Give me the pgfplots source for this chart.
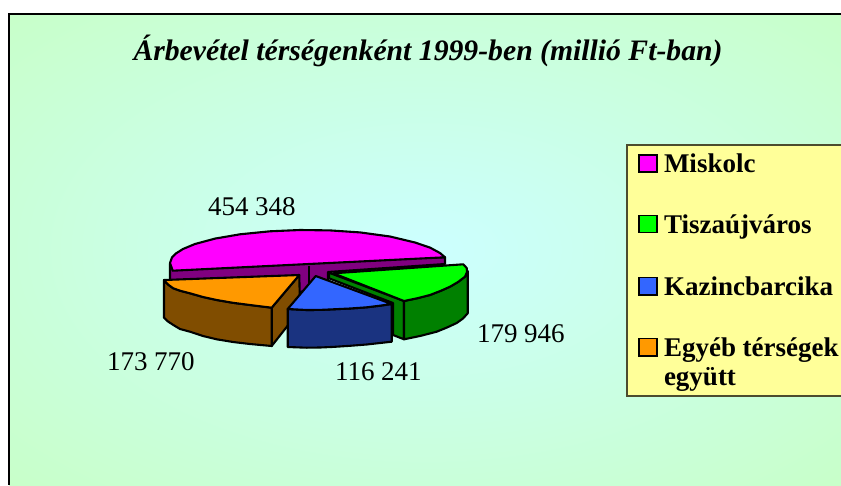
\documentclass[border=0pt]{standalone}
\usepackage{pgfplots}
\pgfplotsset{compat=1.18}
\usepackage{fontspec}
\setmainfont{Liberation Serif}
\definecolor{bgin}{HTML}{CCFFFF}
\definecolor{bgout}{HTML}{C8FFC8}
\definecolor{mag}{HTML}{FF00FF}
\definecolor{magd}{HTML}{800080}
\definecolor{gre}{HTML}{00FF00}
\definecolor{gred}{HTML}{008000}
\definecolor{blu}{HTML}{3366FF}
\definecolor{blud}{HTML}{1A3380}
\definecolor{ora}{HTML}{FF9900}
\definecolor{orad}{HTML}{804D00}
\definecolor{legbg}{HTML}{FFFF99}
\pgfdeclareradialshading{bgshade}{\pgfpoint{0bp}{0bp}}{color(0bp)=(bgin); color(36bp)=(bgout); color(50bp)=(bgout)}
\tikzset{
  pie/.style={draw=black, line width=2.1pt, line join=round},
  lab/.style={anchor=base west, inner sep=0pt, outer sep=0pt, font=\fontsize{27}{27}\selectfont},
  leg/.style={anchor=base west, inner sep=0pt, outer sep=0pt, font=\fontsize{27}{27}\selectfont\bfseries},
}
\begin{document}
\begin{tikzpicture}
\begin{axis}[
  at={(0pt,0pt)}, anchor=south west,
  scale only axis, width=841pt, height=485pt,
  xmin=0, xmax=841, ymin=0, ymax=485, y dir=reverse,
  hide axis, clip=true,
]
% background
\path[shading=bgshade] (axis cs:9,14) rectangle (axis cs:841,485);
\addplot[draw=black, line width=1.5pt] coordinates {(9,485) (9,14) (841,14)};

% Miskolc
\addplot[pie, fill=magd] coordinates {(170,263.3) (445,257.3) (445,264) (328,272) (328,285) (300,292) (170,292)} -- cycle;
\addplot[pie, fill=mag] coordinates {(172.7,270.7) (170,263) (172,257.4) (176,253.4) (183,249) (195,244) (215,238.6) (240,234.3) (270,231.3) (300,230) (330,230.4) (360,232.4) (390,236.5) (415,242.5) (430,247.6) (440,253) (445,257.3)} -- cycle;
\addplot[draw=black, line width=2.1pt] coordinates {(309,266) (309,285)};

% Egyeb
\addplot[pie, fill=orad] coordinates {(271.7,307.7) (299.3,275) (300,310) (271.7,346)} -- cycle;
\addplot[pie, fill=orad] coordinates {(164,280) (168,284.5) (173.3,288.3) (180,290.7) (190,293.3) (203,297) (216.7,300) (233,302.8) (250,305) (271.7,307.7) (271.7,346) (250,344) (233,342) (216.7,339.3) (203,336) (190,331.7) (180,329) (173.3,325) (168,321.5) (164,317.7)} -- cycle;
\addplot[pie, fill=ora] coordinates {(164,280) (299.3,275) (271.7,307.7) (250,305) (233,302.8) (216.7,300) (203,297) (190,293.3) (180,290.7) (173.3,288.3) (168,284.5)} -- cycle;

% Tiszaujvaros
\addplot[pie, fill=gred] coordinates {(329,272.7) (404,301) (404,339.3) (393,335) (393,303) (329,278.3)} -- cycle;
\addplot[pie, fill=gred] coordinates {(404,301) (417,298.3) (430,295) (441,290.7) (450,286.7) (458,282) (465,276.7) (467.7,271) (467.7,313.3) (463,318.5) (456.7,323) (447,327.5) (436.7,331.7) (420,336) (404,339.3)} -- cycle;
\addplot[pie, fill=gre] coordinates {(333.3,273.3) (463.3,264.3) (466.7,268) (467,272) (465,276.7) (458,282) (450,286.7) (441,290.7) (430,295) (417,298.3) (404,301)} -- cycle;

% Kazincbarcika
\addplot[pie, fill=blud] coordinates {(287.7,309) (306.7,310) (320,309.9) (333.3,309.3) (350,308.5) (366.7,307.3) (380,305.7) (391.7,304) (391.7,341.7) (380,343) (366.7,344.5) (350,345.8) (333.3,346.9) (320,347.5) (306.7,347.7) (287.7,347)} -- cycle;
\addplot[pie, fill=blu] coordinates {(315.7,276) (391.7,304) (380,305.7) (366.7,307.3) (350,308.5) (333.3,309.3) (320,309.9) (306.7,310) (287.7,309)} -- cycle;

% legend box
\addplot[fill=legbg, draw=black!70!legbg, line width=1.5pt] coordinates {(627,145) (845,145) (845,396) (627,396)} -- cycle;
\addplot[draw=black, fill=mag, line width=1.5pt] coordinates {(639,155) (657,155) (657,172) (639,172)} -- cycle;
\addplot[draw=black, fill=gre, line width=1.5pt] coordinates {(639,215.5) (657,215.5) (657,232.5) (639,232.5)} -- cycle;
\addplot[draw=black, fill=blu, line width=1.5pt] coordinates {(639,277.5) (657,277.5) (657,295) (639,295)} -- cycle;
\addplot[draw=black, fill=ora, line width=1.5pt] coordinates {(639,338.5) (657,338.5) (657,356) (639,356)} -- cycle;

\node[leg] at (axis cs:664,172.5) {Miskolc};
\node[leg] at (axis cs:664,233) {Tiszaújváros};
\node[leg] at (axis cs:664,295.5) {Kazincbarcika};
\node[leg] at (axis cs:664,356.5) {Egyéb térségek};
\node[leg] at (axis cs:664,385.5) {együtt};

% title and labels
\node[anchor=base, inner sep=0pt, font=\fontsize{29.7}{29.7}\selectfont\bfseries\itshape] at (axis cs:428,60) {Árbevétel térségenként 1999-ben (millió Ft-ban)};
\node[lab] at (axis cs:208,215) {454 348};
\node[lab] at (axis cs:477,342) {179 946};
\node[lab] at (axis cs:335,380) {116 241};
\node[lab] at (axis cs:107,370) {173 770};
\end{axis}
\useasboundingbox (0,0) rectangle (841pt,485pt);
\end{tikzpicture}
\end{document}
